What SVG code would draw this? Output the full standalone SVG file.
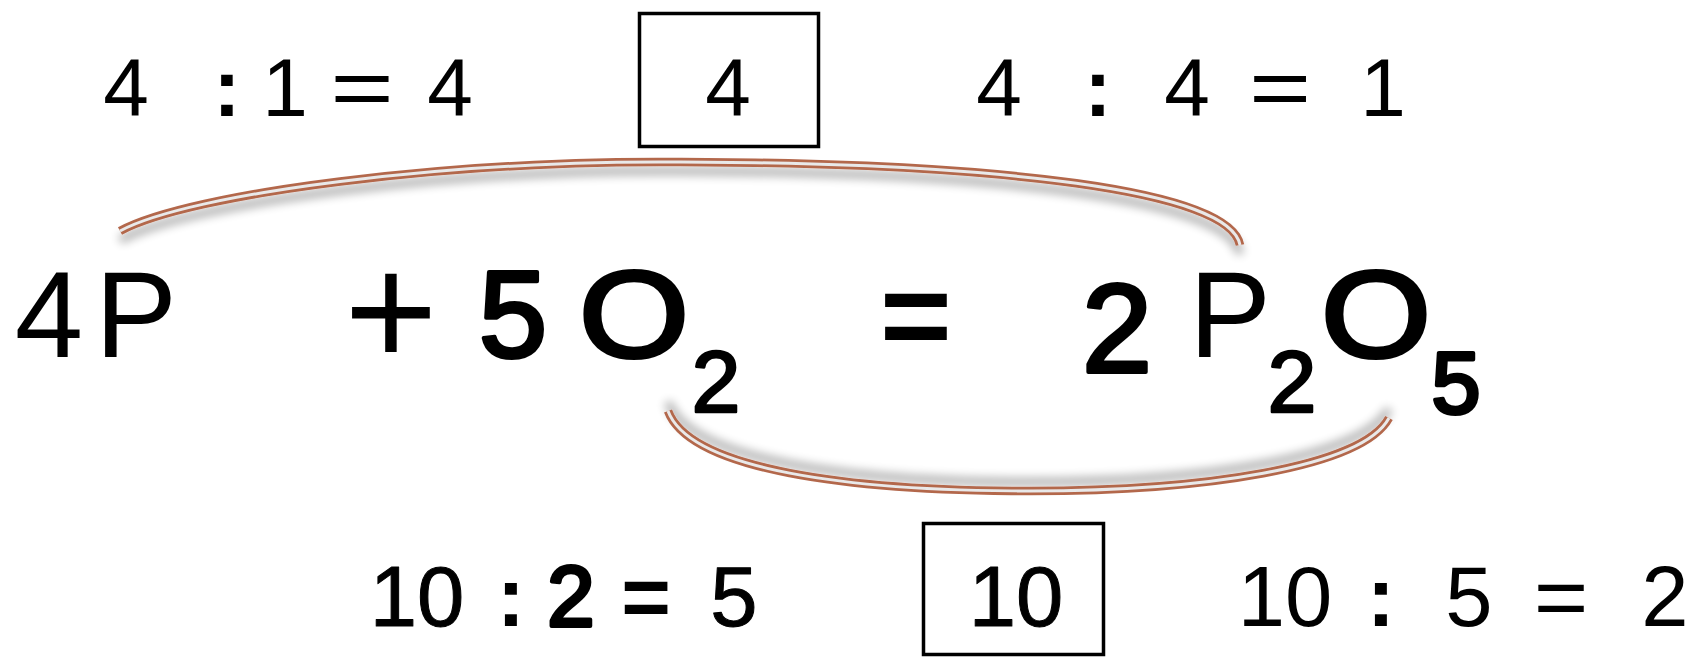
<svg xmlns="http://www.w3.org/2000/svg" width="1694" height="657" viewBox="0 0 1694 657">
<style>
.t{font-family:"Liberation Sans",Arial,sans-serif;fill:#000;text-anchor:middle}
.r{font-size:82px}
.m{font-size:123px}
.s{font-size:88px}
.b{font-weight:bold}
.k{stroke:#000;stroke-width:4;stroke-linejoin:round}
.k2{stroke:#000;stroke-width:2.5;stroke-linejoin:round}
.k1{stroke:#000;stroke-width:1;stroke-linejoin:round}
.box{fill:none;stroke:#000;stroke-width:3.5}
.arcO{fill:none;stroke:#b3674c;stroke-width:8.5;stroke-linecap:butt}
.arcI{fill:none;stroke:#e9e9e9;stroke-width:3;stroke-linecap:butt}
</style>
<defs>
<filter id="shDown" x="-10%" y="-50%" width="120%" height="200%">
<feGaussianBlur in="SourceAlpha" stdDeviation="5"/>
<feOffset dy="9" result="o"/>
<feComponentTransfer><feFuncA type="linear" slope="0.3"/></feComponentTransfer>
<feMerge><feMergeNode/><feMergeNode in="SourceGraphic"/></feMerge>
</filter>
<filter id="shUp" x="-10%" y="-80%" width="120%" height="220%">
<feGaussianBlur in="SourceAlpha" stdDeviation="5"/>
<feOffset dy="-9" result="o"/>
<feComponentTransfer><feFuncA type="linear" slope="0.3"/></feComponentTransfer>
<feMerge><feMergeNode/><feMergeNode in="SourceGraphic"/></feMerge>
</filter>
</defs>
<rect width="1694" height="657" fill="#fff"/>

<g id="connectors">
<g filter="url(#shDown)">
<path class="arcO" d="M120,231 C190,193 450,160 681,162 C1000,163 1230,190 1240,245"/>
<path class="arcI" d="M120,231 C190,193 450,160 681,162 C1000,163 1230,190 1240,245"/>
</g>
<g filter="url(#shUp)">
<path class="arcO" d="M668,411 C690,470 850,491 1030,491 C1200,491 1362,468 1389,418"/>
<path class="arcI" d="M668,411 C690,470 850,491 1030,491 C1200,491 1362,468 1389,418"/>
</g>
</g>

<g id="top-left-calc">
<text class="t r" x="126" y="116">4</text>
<text class="t r b" x="227" y="116">:</text>
<text class="t r" x="285" y="116">1</text>
<text class="t r" transform="translate(362,116) scale(1.33,1)" x="0" y="0">=</text>
<text class="t r" x="450" y="116">4</text>
</g>

<g id="top-box">
<rect class="box" x="639.5" y="13.5" width="179" height="133"/>
<text class="t r" x="728" y="116">4</text>
</g>

<g id="top-right-calc">
<text class="t r" x="999" y="116">4</text>
<text class="t r b" x="1098" y="116">:</text>
<text class="t r" x="1187" y="116">4</text>
<text class="t r" transform="translate(1280,116) scale(1.3,1)" x="0" y="0">=</text>
<text class="t r" x="1383" y="116">1</text>
</g>

<g id="equation">
<text class="t m" x="49" y="357">4</text>
<text class="t m" x="136" y="357">P</text>
<text class="t" style="font-size:160px" x="391" y="366">+</text>
<text class="t m k" x="513" y="357">5</text>
<text class="t m k" transform="translate(634,357) scale(1.15,1)" x="0" y="0">O</text>
<text class="t s k2" x="716" y="412">2</text>
<text class="t m b" x="916" y="357">=</text>
<text class="t k" style="font-size:126px" x="1117" y="372">2</text>
<text class="t m" x="1230" y="357">P</text>
<text class="t s k2" x="1292" y="412">2</text>
<text class="t m k" transform="translate(1376,357) scale(1.15,1)" x="0" y="0">O</text>
<text class="t s k" x="1456" y="413">5</text>
</g>

<g id="bottom-left-calc">
<text class="t k1" style="font-size:85px" x="417" y="626">10</text>
<text class="t b" style="font-size:85px" x="511" y="626">:</text>
<text class="t k" style="font-size:85px" x="571" y="626">2</text>
<text class="t b" style="font-size:85px" x="646" y="626">=</text>
<text class="t k1" style="font-size:85px" x="734" y="626">5</text>
</g>

<g id="bottom-box">
<rect class="box" x="923.5" y="523.5" width="180" height="131"/>
<text class="t k1" style="font-size:85px" x="1016" y="626">10</text>
</g>

<g id="bottom-right-calc">
<text class="t" style="font-size:85px" x="1285" y="626">10</text>
<text class="t b" style="font-size:85px" x="1381" y="626">:</text>
<text class="t" style="font-size:85px" x="1469" y="626">5</text>
<text class="t" style="font-size:85px" transform="translate(1561,626) scale(1.1,1)" x="0" y="0">=</text>
<text class="t" style="font-size:85px" x="1665" y="626">2</text>
</g>
</svg>
